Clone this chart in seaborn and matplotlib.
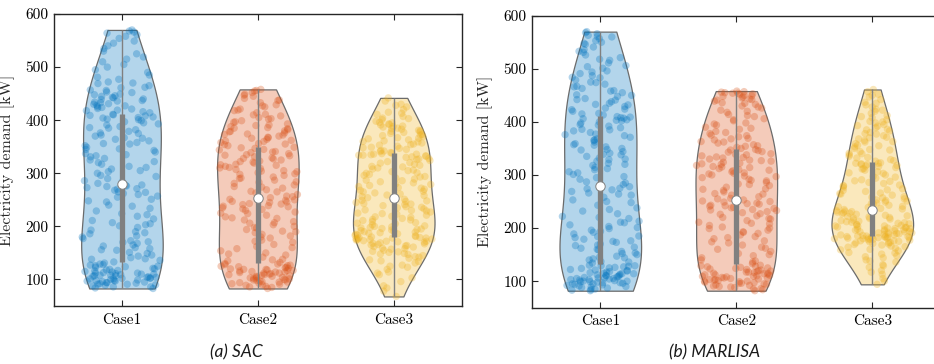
import numpy as np
import pandas as pd
import matplotlib
matplotlib.use("Agg")
import matplotlib.pyplot as plt
from matplotlib.colors import to_rgb
import seaborn as sns

# ---------------------------------------------------------------- data
cases = ["Case1", "Case2", "Case3"]
case_colors = ["#0072BD", "#D95319", "#EDB120"]
y_ticks = [100, 200, 300, 400, 500, 600]
y_label = "Electricity demand [kW]"
captions = ["(a) SAC", "(b) MARLISA"]

# hourly electricity demand samples [kW]
sac_case1 = [
    83, 84, 86, 88, 89, 90, 91, 92, 93, 94, 95, 96, 97, 97, 98, 99, 100, 101,
    101, 102, 103, 104, 105, 106, 107, 108, 108, 109, 110, 111, 112, 113, 114,
    116, 117, 119, 121, 123, 125, 127, 129, 131,
    86, 91, 94, 98, 102, 104, 107, 110, 112, 115, 118, 120, 124, 126, 128,
    133, 136, 138, 141, 144, 146, 149, 151, 155, 158, 160, 163, 165, 168, 171,
    173, 177, 180, 182, 186, 190, 193, 198, 201, 203, 207, 211, 214, 219, 224,
    229, 234, 240, 246, 251, 257, 262, 265, 270, 273, 276, 278,
    139, 156, 170, 188, 205, 222, 238, 248, 255, 260, 264, 268, 271, 275, 277,
    281, 286, 290, 296, 300, 305, 308, 313, 317, 320, 325, 328, 331, 335, 337,
    340, 343, 346, 349, 352, 355, 358, 361, 364, 367, 370, 372, 376, 379, 382,
    385, 388, 391, 393, 397, 399, 402, 404, 406, 408, 410, 411,
    284, 294, 303, 311, 322, 333, 345, 356, 366, 375, 386, 395, 401, 405, 409,
    414, 416, 419, 422, 425, 428, 431, 434, 437, 440, 443, 446, 449, 453, 457,
    461, 465, 469, 472, 477, 481, 485, 490, 495, 500, 505, 510, 515, 519, 525,
    530, 535, 540, 545, 549, 554, 558, 561, 564, 566, 568, 570,
    418, 421, 424, 427, 430, 433, 436, 439, 442, 445, 448, 452, 456, 462, 470,
]
sac_case2 = [
    83, 85, 87, 89, 90, 92, 93, 94, 95, 96, 97, 98, 99, 100, 101, 102, 103, 104,
    105, 106, 107, 108, 109, 110, 111, 112, 113, 114, 115, 116, 117, 118, 119,
    120, 121, 123, 124, 126, 128, 130,
    86, 91, 95, 99, 103, 106, 109, 112, 114, 117, 119, 122, 125, 127, 129,
    132, 135, 138, 142, 146, 150, 154, 158, 162, 166, 170, 174, 178, 182, 185,
    188, 191, 194, 197, 200, 203, 206, 209, 212, 215, 218, 221, 224, 227, 230,
    232, 235, 237, 239, 241, 243, 245, 247, 249, 251,
    137, 148, 160, 172, 180, 190, 198, 207, 216, 225, 233, 238, 242, 246, 250,
    254, 257, 260, 263, 266, 269, 272, 275, 278, 281, 284, 287, 290, 293, 296,
    299, 301, 303, 305, 307, 309, 311, 313, 315, 317, 319, 321, 323, 325, 327,
    329, 331, 333, 335, 337, 339, 341, 344, 347, 349,
    256, 265, 274, 283, 291, 298, 304, 310, 316, 322, 328, 334, 340, 345, 348,
    352, 354, 356, 358, 360, 362, 364, 366, 368, 370, 372, 374, 376, 378, 380,
    382, 384, 386, 388, 390, 393, 396, 399, 402, 405, 408, 411, 414, 418, 421,
    425, 429, 433, 437, 441, 445, 449, 452, 455, 458,
    355, 361, 367, 373, 379, 385, 391, 397, 403, 410, 419, 427, 438, 447, 456,
]
sac_case3 = [
    68, 78, 88, 96, 103, 109, 114, 119, 123, 127, 131, 134, 137, 140, 143, 145,
    147, 149, 151, 153, 155, 157, 159, 161, 163, 164, 166, 167, 168, 170, 171,
    172, 173, 174, 175, 176, 177, 178, 178, 179,
    84, 112, 125, 135, 142, 148, 152, 158, 162, 165, 169, 172, 175, 177, 179,
    180, 181, 183, 184, 186, 187, 189, 190, 192, 193, 195, 196, 198, 199, 201,
    203, 205, 207, 209, 211, 213, 215, 217, 219, 221, 223, 225, 227, 229, 231,
    233, 235, 237, 239, 241, 243, 245, 247, 249, 251,
    182, 185, 188, 191, 194, 197, 200, 206, 212, 218, 224, 230, 236, 242, 248,
    254, 256, 259, 261, 263, 266, 268, 270, 273, 275, 277, 280, 282, 284, 287,
    289, 291, 294, 296, 298, 301, 303, 305, 308, 310, 312, 315, 317, 319, 322,
    324, 326, 328, 330, 332, 333, 334, 335, 336, 337,
    258, 265, 272, 279, 286, 293, 300, 306, 313, 320, 327, 331, 334, 336, 338,
    339, 341, 343, 345, 347, 349, 351, 353, 355, 357, 359, 361, 363, 365, 367,
    369, 371, 373, 375, 377, 379, 381, 383, 385, 387, 389, 391, 393, 395, 398,
    401, 404, 407, 411, 415, 420, 425, 430, 436, 442,
    342, 348, 354, 360, 366, 372, 378, 380, 384, 388, 392, 396, 403, 413, 428,
]
marlisa_case1 = [
    82, 84, 85, 87, 89, 90, 92, 93, 94, 95, 96, 97, 98, 99, 99, 100, 101, 102,
    103, 104, 105, 106, 106, 107, 109, 110, 111, 112, 113, 114, 115, 116, 118,
    119, 120, 122, 124, 125, 127, 128, 129, 130,
    83, 88, 91, 95, 97, 100, 103, 105, 108, 111, 114, 117, 121, 126, 129,
    134, 137, 140, 142, 145, 147, 150, 153, 156, 159, 162, 164, 167, 170, 173,
    176, 179, 182, 185, 189, 192, 196, 199, 203, 206, 210, 213, 218, 222, 227,
    232, 238, 243, 248, 253, 258, 262, 266, 269, 272, 275, 278,
    136, 144, 152, 160, 168, 175, 184, 194, 201, 211, 220, 235, 250, 264, 274,
    282, 287, 292, 297, 301, 306, 310, 314, 318, 322, 326, 329, 332, 335, 338,
    341, 344, 347, 350, 353, 356, 359, 362, 365, 368, 371, 374, 377, 380, 383,
    386, 389, 392, 395, 398, 400, 402, 404, 406, 408, 409, 410,
    285, 295, 304, 312, 320, 330, 339, 348, 357, 366, 376, 385, 394, 403, 407,
    413, 416, 420, 423, 426, 429, 432, 435, 438, 441, 444, 448, 451, 455, 459,
    463, 467, 471, 475, 479, 483, 487, 491, 496, 501, 506, 511, 516, 521, 526,
    531, 536, 541, 546, 550, 553, 557, 560, 563, 566, 568, 570,
    415, 424, 433, 442, 450, 458, 466, 474, 484, 494, 504, 518, 533, 548, 561,
]
marlisa_case2 = [
    82, 84, 86, 88, 90, 91, 93, 94, 95, 96, 97, 98, 99, 100, 101, 102, 103, 104,
    105, 106, 107, 108, 109, 110, 111, 112, 113, 114, 115, 116, 117, 118, 119,
    121, 122, 123, 125, 126, 128, 130,
    85, 89, 92, 96, 100, 103, 106, 109, 112, 115, 117, 120, 124, 127, 129,
    133, 136, 140, 144, 148, 152, 156, 160, 164, 168, 172, 176, 180, 184, 187,
    190, 193, 196, 199, 202, 205, 208, 211, 214, 217, 220, 223, 226, 229, 231,
    233, 235, 237, 239, 241, 243, 245, 247, 249, 251,
    138, 150, 162, 174, 182, 192, 200, 209, 218, 227, 234, 238, 242, 246, 250,
    253, 256, 259, 262, 265, 268, 271, 274, 277, 280, 283, 286, 289, 292, 295,
    298, 300, 302, 304, 306, 308, 310, 312, 314, 316, 318, 320, 322, 324, 326,
    328, 330, 332, 334, 336, 338, 340, 343, 346, 348,
    255, 264, 273, 282, 290, 297, 303, 309, 315, 321, 327, 333, 339, 344, 347,
    350, 352, 354, 357, 360, 363, 366, 369, 372, 375, 378, 382, 386, 390, 394,
    398, 402, 406, 410, 414, 418, 422, 426, 430, 433, 436, 439, 441, 443, 445,
    447, 449, 450, 452, 453, 454, 455, 456, 457, 458,
    355, 362, 368, 374, 380, 388, 396, 404, 412, 420, 428, 435, 442, 448, 454,
]
marlisa_case3 = [
    94, 105, 113, 120, 126, 131, 136, 140, 144, 148, 151, 154, 157, 160, 162,
    164, 166, 168, 170, 171, 172, 173, 174, 175, 176, 177, 178, 179, 180, 180,
    181, 181, 182, 182, 183, 183, 184, 184, 185, 185,
    100, 117, 129, 138, 146, 153, 159, 165, 169, 173, 176, 179, 181, 183, 184,
    186, 187, 188, 189, 190, 191, 192, 193, 194, 195, 196, 197, 198, 199, 200,
    201, 202, 203, 204, 205, 206, 207, 208, 210, 211, 212, 214, 215, 217, 218,
    220, 221, 223, 224, 226, 227, 229, 230, 232, 233,
    187, 189, 191, 193, 195, 197, 199, 201, 204, 209, 213, 219, 222, 228, 231,
    235, 237, 239, 241, 243, 245, 247, 249, 251, 253, 255, 257, 259, 262, 264,
    266, 269, 271, 274, 276, 279, 281, 284, 286, 289, 291, 294, 297, 300, 303,
    306, 309, 312, 314, 316, 318, 320, 321, 322, 323,
    236, 240, 246, 252, 258, 265, 272, 280, 288, 296, 304, 311, 317, 320, 322,
    326, 329, 332, 335, 338, 341, 344, 347, 350, 353, 356, 359, 362, 365, 368,
    371, 374, 377, 380, 383, 386, 389, 392, 395, 398, 401, 404, 408, 412, 416,
    420, 424, 428, 432, 437, 442, 447, 452, 457, 461,
    327, 333, 340, 348, 355, 363, 370, 378, 385, 393, 400, 410, 422, 435, 450,
]

panels = [
    [sac_case1, sac_case2, sac_case3],
    [marlisa_case1, marlisa_case2, marlisa_case3],
]

# ---------------------------------------------------------------- style
sns.set_style("ticks")
plt.rcParams["font.family"] = ["cmr10", "DejaVu Serif"]
plt.rcParams["axes.formatter.use_mathtext"] = True

INK = "#262626"
INNER = "#808080"
JITTER = 0.4


def tint(color, alpha=0.3):
    rgb = np.array(to_rgb(color))
    return tuple(alpha * rgb + (1 - alpha) * np.ones(3))


fill_palette = [tint(c) for c in case_colors]


def hug_violins(ax, n_violins):
    """Scale each point's jitter by the violin half-width at its height."""
    profiles = {}
    for poly in ax.collections[:n_violins]:
        v = np.asarray(poly.get_paths()[0].vertices)
        cx = int(np.rint((v[:, 0].min() + v[:, 0].max()) / 2))
        right = v[v[:, 0] >= cx]
        order = np.argsort(right[:, 1], kind="stable")
        profiles[cx] = (right[order, 1], right[order, 0] - cx)
    for coll in ax.collections[n_violins:]:
        off = np.asarray(coll.get_offsets(), dtype=float).copy()
        if off.size == 0:
            continue
        for k, (x, y) in enumerate(off):
            cx = int(np.rint(x))
            if cx not in profiles:
                continue
            ys, hw = profiles[cx]
            w = np.interp(y, ys, hw)
            off[k, 0] = cx + (x - cx) / JITTER * w
        coll.set_offsets(off)


def draw_panel(ax, samples):
    df = pd.DataFrame({
        "Case": np.repeat(cases, [len(s) for s in samples]),
        "Demand": np.concatenate([np.asarray(s, float) for s in samples]),
    })
    sns.violinplot(
        data=df, x="Case", y="Demand", hue="Case", order=cases,
        hue_order=cases, palette=fill_palette, saturation=1, cut=0,
        inner=None, density_norm="width", width=0.6, bw_adjust=1.75,
        linewidth=0.9, linecolor="#6b6b6b", legend=False, ax=ax,
    )
    n_violins = len(ax.collections)
    sns.stripplot(
        data=df, x="Case", y="Demand", hue="Case", order=cases,
        hue_order=cases, palette=case_colors, jitter=JITTER, size=5.3,
        alpha=0.3, linewidth=0, legend=False, ax=ax,
    )
    hug_violins(ax, n_violins)

    # range line, interquartile bar and median marker
    for i, s in enumerate(samples):
        q1, med, q3 = np.percentile(s, [25, 50, 75])
        ax.vlines(i, min(s), max(s), color=INNER, lw=1.0, zorder=4)
        ax.vlines(i, q1, q3, color=INNER, lw=3.8, zorder=5)
        ax.plot(i, med, "o", ms=6.8, mfc="white", mec=INNER, mew=0.7,
                zorder=6)

    ax.set_xlim(-0.5, 2.5)
    ax.set_ylim(50, 600)
    ax.set_yticks(y_ticks, labels=[str(t) for t in y_ticks])
    ax.set_xlabel("")
    ax.set_ylabel(y_label, fontsize=11.5)
    ax.yaxis.set_label_coords(-0.096, 0.5)
    ax.tick_params(direction="in", top=True, right=True, length=4,
                   width=0.8, color=INK, labelsize=11, labelcolor="black")
    ax.tick_params(axis="y", pad=4)
    ax.tick_params(axis="x", pad=5)
    for sp in ax.spines.values():
        sp.set_visible(True)
        sp.set_linewidth(1.0)
        sp.set_color(INK)


fig = plt.figure(figsize=(9.34, 3.64), dpi=100)
W, H = 934.0, 364.0
axes = [
    fig.add_axes([54 / W, 1 - 306 / H, 407.7 / W, 292 / H]),
    fig.add_axes([532.3 / W, 1 - 307.7 / H, 408 / W, 292 / H]),
]
for ax, samples in zip(axes, panels):
    draw_panel(ax, samples)

for xc, text in zip([236, 715], captions):
    fig.text(xc / W, 1 - 352 / H, text, ha="center", va="center",
             family=["Lato", "DejaVu Sans"], style="italic", fontsize=12.5,
             color="#1a1a1a")

fig.savefig("out.png", dpi=100)
